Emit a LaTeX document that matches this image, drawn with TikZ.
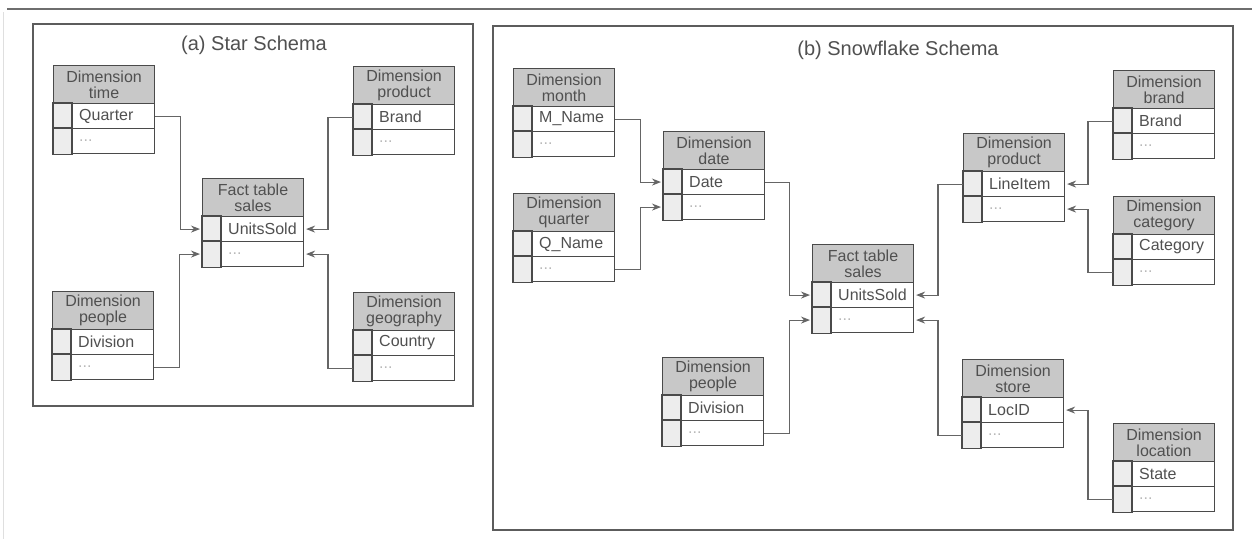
\documentclass[tikz,border=0pt]{standalone}
\usepackage{fontspec}
\setmainfont{Liberation Sans}
\usetikzlibrary{arrows.meta}
\definecolor{ink}{HTML}{4A4A4A}
\definecolor{hdrgray}{HTML}{C8C8C8}
\definecolor{keygray}{HTML}{EDEDED}
\definecolor{txt}{HTML}{505050}
\tikzset{
  tblline/.style={draw=ink, line width=1.1pt},
  hdr/.style={tblline, fill=hdrgray, anchor=north west, minimum width=101pt, minimum height=38pt, inner sep=0pt, align=center, font=\fontsize{16}{16}\selectfont, text=txt},
  rowcell/.style={tblline, fill=white, anchor=north west, minimum width=101pt, minimum height=25pt, inner sep=0pt},
  keycell/.style={tblline, fill=keygray},
  rowtext/.style={anchor=west, inner sep=0pt, font=\fontsize{16}{16}\selectfont, text=txt},
  dotstext/.style={rowtext, text=gray!55},
  link/.style={draw=ink!85, line width=1.1pt, -{Stealth[length=9pt,width=7pt]}, shorten >=2pt},
  paneltitle/.style={font=\fontsize{20}{20}\selectfont, text=txt},
  panel/.style={draw=ink!90, line width=1.2pt},
}
\newcommand\dimtab[5]{%
  \node[hdr] (#1-h) at (#2,#3) {#4};
  \node[rowcell] (#1-a) at (#2,#3+38) {};
  \node[rowcell] (#1-b) at (#2,#3+63) {};
  \draw[keycell] (#1-a.north west) rectangle ([xshift=19pt]#1-a.south west);
  \draw[keycell] (#1-b.north west) rectangle ([xshift=19pt]#1-b.south west);
  \node[rowtext] (#1-at) at ([xshift=26pt]#1-a.west) {#5};
  \node[dotstext] (#1-bt) at ([xshift=26pt]#1-b.west) {...};
}
\begin{document}
\begin{tikzpicture}[x=1pt,y=-1pt]
\useasboundingbox (0,0) rectangle (1255,539);
\fill[white] (0,0) rectangle (1255,539);
% frame lines
\draw[ink!80, line width=1.2pt] (7,9) -- (1252,9);
\draw[gray!25, line width=1pt] (3,12) -- (3,539);
% panels
\draw[panel] (33,24) rectangle (473,406);
\draw[panel] (493,26) rectangle (1233,530);
\node[paneltitle] (ta) at (254,45) {(a) Star Schema};
\node[paneltitle] (tb) at (898,50) {(b) Snowflake Schema};
% (a) star schema
\dimtab{time}{53}{65}{Dimension\\time}{Quarter}
\dimtab{product}{353}{66}{Dimension\\product}{Brand}
\dimtab{facta}{202}{178}{Fact table\\sales}{UnitsSold}
\dimtab{people}{52}{291}{Dimension\\people}{Division}
\dimtab{geo}{353}{292}{Dimension\\geography}{Country}
\draw[link] (time-a.east) -- ++(25,0) |- (facta-a.west);
\draw[link] (people-b.east) -- ++(25,0) |- (facta-b.west);
\draw[link] (product-a.west) -- ++(-25,0) |- (facta-a.east);
\draw[link] (geo-b.west) -- ++(-25,0) |- (facta-b.east);
% (b) snowflake schema
\dimtab{month}{513}{68}{Dimension\\month}{M\_Name}
\dimtab{quarter}{513}{193}{Dimension\\quarter}{Q\_Name}
\dimtab{date}{663}{131}{Dimension\\date}{Date}
\dimtab{factb}{812}{244}{Fact table\\sales}{UnitsSold}
\dimtab{peopleb}{662}{357}{Dimension\\people}{Division}
\dimtab{productb}{963}{133}{Dimension\\product}{LineItem}
\dimtab{brand}{1113}{70}{Dimension\\brand}{Brand}
\dimtab{category}{1113}{196}{Dimension\\category}{Category}
\dimtab{store}{962}{359}{Dimension\\store}{LocID}
\dimtab{location}{1113}{423}{Dimension\\location}{State}
\draw[link] (month-a.east) -- ++(25,0) |- (date-a.west);
\draw[link] (quarter-b.east) -- ++(25,0) |- (date-b.west);
\draw[link] (date-a.east) -- ++(24,0) |- (factb-a.west);
\draw[link] (peopleb-b.east) -- ++(25,0) |- (factb-b.west);
\draw[link] (productb-a.west) -- ++(-25,0) |- (factb-a.east);
\draw[link] (store-b.west) -- ++(-24,0) |- (factb-b.east);
\draw[link] (brand-a.west) -- ++(-25,0) |- (productb-a.east);
\draw[link] (category-b.west) -- ++(-25,0) |- (productb-b.east);
\draw[link] (location-b.west) -- ++(-25,0) |- (store-a.east);
\end{tikzpicture}
\end{document}
